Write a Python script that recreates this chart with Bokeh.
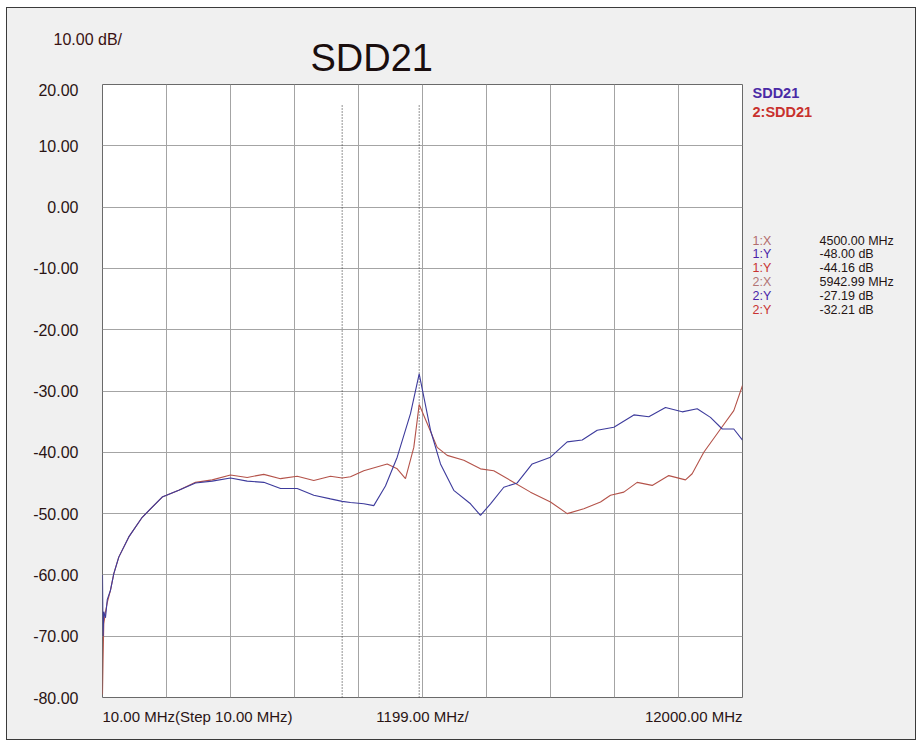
from bokeh.plotting import figure
from bokeh.layouts import column, row
from bokeh.models import Range1d, FixedTicker
from bokeh.core.properties import value
from bokeh.embed import file_html
from bokeh.resources import INLINE

# ---------------- data ----------------
blue_freq = [10, 20, 34, 66, 100, 160, 222, 315, 503, 754, 1128, 1439, 1752, 2065,
             2408, 2721, 3032, 3345, 3658, 3968, 4281, 4500, 4656, 4905, 5092, 5311,
             5531, 5780, 5943, 6155, 6342, 6591, 6904, 7091, 7279, 7528, 7779, 8060,
             8403, 8716, 8997, 9278, 9590, 9965, 10245, 10557, 10870, 11151, 11400,
             11620, 11837, 12000]
blue_db = [-60.0, -70.0, -66.0, -67.0, -64.0, -62.5, -59.8, -57.1, -53.8, -50.6, -47.3,
           -46.2, -45.0, -44.7, -44.2, -44.7, -44.9, -45.9, -45.9, -47.0, -47.6, -48.0,
           -48.2, -48.4, -48.7, -45.5, -40.8, -33.7, -27.2, -36.4, -41.9, -46.2, -48.4,
           -50.3, -48.4, -45.7, -45.0, -41.9, -40.8, -38.3, -38.0, -36.4, -35.9, -33.9,
           -34.2, -32.7, -33.4, -32.9, -34.3, -36.2, -36.2, -38.0]

red_freq = [10, 20, 34, 66, 100, 160, 222, 315, 503, 754, 1128, 1439, 1752, 2065,
            2408, 2721, 3032, 3345, 3658, 3968, 4281, 4500, 4656, 4905, 5344, 5531,
            5686, 5842, 5943, 6093, 6280, 6468, 6779, 7091, 7340, 7653, 8028, 8403,
            8716, 9027, 9340, 9527, 9777, 10027, 10308, 10619, 10932, 11057, 11275,
            11588, 11837, 12000]
red_db = [-79.5, -74.0, -68.0, -66.0, -64.5, -62.5, -59.8, -57.1, -53.8, -50.6, -47.3,
          -46.2, -44.9, -44.5, -43.7, -44.1, -43.6, -44.3, -43.9, -44.6, -43.9, -44.2,
          -44.0, -43.0, -41.9, -42.7, -44.3, -39.2, -32.2, -35.3, -39.2, -40.5, -41.3,
          -42.7, -43.0, -44.6, -46.5, -48.1, -50.0, -49.2, -48.1, -47.0, -46.5, -44.9,
          -45.4, -43.8, -44.5, -43.5, -40.0, -36.2, -33.2, -29.1]

series_names = ["SDD21", "2:SDD21"]

y_ticks = [20, 10, 0, -10, -20, -30, -40, -50, -60, -70, -80]
y_tick_labels = ["20.00", "10.00", "0.00", "-10.00", "-20.00", "-30.00",
                 "-40.00", "-50.00", "-60.00", "-70.00", "-80.00"]

x_start, x_step, x_divs = 10.0, 1199.0, 10
x_grid = [x_start + x_step * i for i in range(x_divs + 1)]
x_label_anchor = [10.0, 6005.0, 12000.0]
x_labels = ["10.00 MHz(Step 10.00 MHz)", "1199.00 MHz/", "12000.00 MHz"]
x_label_align = ["left", "center", "right"]

marker_freq = [4500.00, 5942.99]
marker_names = ["1:X", "1:Y", "1:Y", "2:X", "2:Y", "2:Y"]
marker_values = ["4500.00 MHz", "-48.00 dB", "-44.16 dB",
                 "5942.99 MHz", "-27.19 dB", "-32.21 dB"]

scale_text = ["10.00 dB/"]
title_text = ["SDD21"]

# ---------------- styling / layout constants (page pixels) ----------------
BLUE = "#3d3b9c"
RED = "#b4534a"
FONT = "Liberation Sans"
TXT = "#2a1414"
BG = "#f0f0f0"

X0, X1 = 10.0, 12000.0
Y0, Y1 = -80.0, 20.0
OX, OY = 7, 8                 # inner origin of the framed page area
IW, IH = 908, 731             # inner size
FRAME_L, FRAME_R, FRAME_T, FRAME_B = 102, 742, 84, 697
HDR_B = FRAME_T - 1           # header strip bottom
MAIN_R = FRAME_R + 1          # main figure right edge

def blank(w, h, x0, x1, ytop, ybot):
    f = figure(width=w, height=h, output_backend="svg", toolbar_location=None,
               x_range=Range1d(x0, x1), y_range=Range1d(ybot, ytop),
               x_axis_type=None, y_axis_type=None,
               min_border=0, min_border_left=0, min_border_right=0,
               min_border_top=0, min_border_bottom=0)
    f.background_fill_color = BG
    f.border_fill_color = BG
    f.outline_line_color = None
    f.grid.visible = False
    return f

# ---- header strip ----
hdr = blank(IW, HDR_B - OY, OX, OX + IW, OY, HDR_B)
hdr.text(x=[53], y=[39], text=scale_text, text_font=value(FONT),
         text_font_size="16px", text_color="#3a1212",
         text_baseline="middle", text_align="left")
hdr.text(x=[310], y=[57], text=title_text, text_font=value(FONT),
         text_font_size="38px", text_color="#1a0e0e",
         text_baseline="middle", text_align="left")

# ---- main chart ----
main_w = MAIN_R - OX
main_h = OY + IH - HDR_B
p = figure(width=main_w, height=main_h, output_backend="svg", toolbar_location=None,
           x_range=Range1d(X0, X1), y_range=Range1d(Y0, Y1),
           min_border_left=FRAME_L - OX, min_border_right=MAIN_R - FRAME_R,
           min_border_top=FRAME_T - HDR_B, min_border_bottom=OY + IH - FRAME_B)
p.background_fill_color = "white"
p.border_fill_color = BG
p.outline_line_color = "#6a6a6a"
p.outline_line_width = 1

p.xgrid.ticker = FixedTicker(ticks=x_grid)
p.ygrid.ticker = FixedTicker(ticks=y_ticks)
for g in (p.xgrid, p.ygrid):
    g.grid_line_color = "#a4a4a4"
    g.grid_line_width = 1

ya = p.yaxis[0]
ya.ticker = FixedTicker(ticks=y_ticks)
ya.major_label_overrides = {t: l for t, l in zip(y_ticks, y_tick_labels)}
ya.axis_line_color = None
ya.major_tick_line_color = None
ya.minor_tick_line_color = None
ya.major_tick_out = 0
ya.major_tick_in = 0
ya.major_label_standoff = 24
ya.major_label_text_font = FONT
ya.major_label_text_font_size = "16px"
ya.major_label_text_color = TXT

CW = {".": .278, " ": .278, "M": .833, "H": .722, "z": .5, "(": .333, ")": .333,
      "S": .667, "t": .278, "e": .556, "p": .556, "/": .278}
def text_w(s, size):
    return sum(CW.get(c, .556) for c in s) * size

XFS = 15
mhz_per_px = (X1 - X0) / (FRAME_R - FRAME_L)
x_tick_pos = []
for a, lab, al in zip(x_label_anchor, x_labels, x_label_align):
    w = text_w(lab, XFS)
    if al == "left":
        x_tick_pos.append(a + w / 2 * mhz_per_px)
    elif al == "right":
        x_tick_pos.append(a - w / 2 * mhz_per_px)
    else:
        x_tick_pos.append(a)
xa = p.xaxis[0]
xa.ticker = FixedTicker(ticks=x_tick_pos)
xa.major_label_overrides = {t: l for t, l in zip(x_tick_pos, x_labels)}
xa.axis_line_color = None
xa.major_tick_line_color = None
xa.minor_tick_line_color = None
xa.major_tick_out = 0
xa.major_tick_in = 0
xa.major_label_standoff = 10
xa.major_label_text_font = FONT
xa.major_label_text_font_size = f"{XFS}px"
xa.major_label_text_color = TXT

marker_top = Y1 - (105 - FRAME_T) * (Y1 - Y0) / (FRAME_B - FRAME_T)
p.segment(x0=marker_freq, y0=[Y0] * len(marker_freq), x1=marker_freq,
          y1=[marker_top] * len(marker_freq), line_color="#262626", line_width=1,
          line_dash="1 2")

p.line(red_freq, red_db, line_color=RED, line_width=1.1)
p.line(blue_freq, blue_db, line_color=BLUE, line_width=1.1)

# ---- right side strip: legend + marker readout ----
side = blank(OX + IW - MAIN_R, main_h, MAIN_R, OX + IW, HDR_B, OY + IH)
side.text(x=[752, 752], y=[92, 112], text=series_names, text_font=value(FONT),
          text_font_size="14.5px", text_font_style="bold",
          text_color=["#4a2aa6", "#c8312d"],
          text_baseline="middle", text_align="left")
name_cols = ["#b26c6c", "#4a1fa8", "#c83232", "#b27474", "#4a1fa8", "#c83232"]
row_y = [250 + 14.8 * i for i in range(len(marker_names))]
side.text(x=[752] * len(marker_names), y=row_y, text=marker_names,
          text_font=value(FONT), text_font_size="12.5px", text_color=name_cols,
          text_baseline="middle", text_align="left")
side.text(x=[819] * len(marker_values), y=row_y, text=marker_values,
          text_font=value(FONT), text_font_size="12.5px", text_color="#241414",
          text_baseline="middle", text_align="left")

page = column(hdr, row(p, side, spacing=0), spacing=0,
              styles={"margin-left": "6px", "margin-top": "7px",
                      "border": "1px solid #3a3a3a", "background-color": BG})

open("out.html", "w").write(file_html(page, INLINE))
